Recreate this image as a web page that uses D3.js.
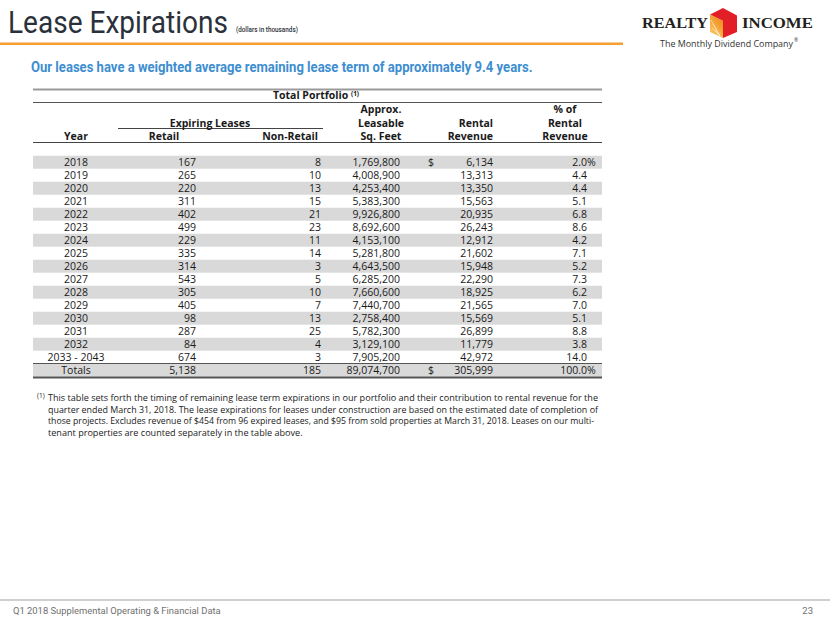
<!DOCTYPE html>
<html><head><meta charset="utf-8">
<script src="https://cdn.jsdelivr.net/npm/d3@7"></script>
<style>body{margin:0;background:#fff}svg{display:block}</style>
</head><body>
<script>
// ---------- data ----------
const years = ["2018","2019","2020","2021","2022","2023","2024","2025","2026","2027","2028","2029","2030","2031","2032","2033 - 2043"];
const retail = [167,265,220,311,402,499,229,335,314,543,305,405,98,287,84,674];
const nonRetail = [8,10,13,15,21,23,11,14,3,5,10,7,13,25,4,3];
const sqFeet = [1769800,4008900,4253400,5383300,9926800,8692600,4153100,5281800,4643500,6285200,7660600,7440700,2758400,5782300,3129100,7905200];
const rentalRevenue = [6134,13313,13350,15563,20935,26243,12912,21602,15948,22290,18925,21565,15569,26899,11779,42972];
const pctRevenue = [2.0,4.4,4.4,5.1,6.8,8.6,4.2,7.1,5.2,7.3,6.2,7.0,5.1,8.8,3.8,14.0];
const totalsLabel = "Totals";
const totals = {retail:5138, nonRetail:185, sqFeet:89074700, rental:305999, pct:100.0};
const footnoteLines = [
 "This table sets forth the timing of remaining lease term expirations in our portfolio and their contribution to rental revenue for the",
 "quarter ended March 31, 2018. The lease expirations for leases under construction are based on the estimated date of completion of",
 "those projects. Excludes revenue of $454 from 96 expired leases, and $95 from sold properties at March 31, 2018. Leases on our multi-",
 "tenant properties are counted separately in the table above."
];

// ---------- layout ----------
const W = 830, H = 623;
const svg = d3.select("body").append("svg").attr("width", W).attr("height", H);
const TF = "'Open Sans', 'Noto Sans', sans-serif";
const tableL = 33, tableR = 602;

// helper: text squeezed horizontally to a given width via transform
function fitText(parent, x, yy, width, txt, attrs) {
  const g = parent.append("g");
  const t = g.append("text").text(txt);
  Object.entries(attrs).forEach(([k, v]) => t.attr(k, v));
  const w = t.node().getComputedTextLength();
  g.attr("transform", `translate(${x},${yy}) scale(${width / w},1)`);
  return t;
}

// Title
fitText(svg, 8, 33, 220, "Lease Expirations",
  {"font-family": "Roboto, sans-serif", "font-size": 32, "fill": "#2b313b"});
fitText(svg, 236, 32, 62, "(dollars in thousands)",
  {"font-family": "Roboto, sans-serif", "font-weight": 500, "font-size": 7.5, "fill": "#2b313b"});
svg.append("rect").attr("x", 0).attr("y", 42.5).attr("width", 623).attr("height", 2.5).attr("fill", "#f5a030");

// Logo
const logo = svg.append("g");
const serif = {"font-family": "'Liberation Serif', 'DejaVu Serif', serif", "font-weight": "bold", "font-size": 15.5, "fill": "#231f20"};
fitText(logo, 642, 28, 66, "REALTY", serif);
fitText(logo, 742, 28, 71, "INCOME", serif);
const defs = svg.append("defs");
const grad = defs.append("linearGradient").attr("id", "sun").attr("x1", 0).attr("y1", 1).attr("x2", 0.6).attr("y2", 0);
grad.append("stop").attr("offset", 0).attr("stop-color", "#fbd36b");
grad.append("stop").attr("offset", 1).attr("stop-color", "#f08a1c");
logo.append("polygon").attr("points", "723,8 737,15.5 737,32 723,38 723,21 710,14.5").attr("fill", "#e21f26");
logo.append("polygon").attr("points", "710,14.5 723,21 723,38 710,32").attr("fill", "url(#sun)");
const rays = logo.append("g").attr("stroke", "#fff").attr("stroke-width", 0.6).attr("opacity", 0.8);
[[711,20],[713,24],[712,28],[715,30],[718,33]].forEach(p => {
  rays.append("line").attr("x1", 720).attr("y1", 36).attr("x2", p[0]).attr("y2", p[1]);
});
fitText(logo, 660, 47, 133, "The Monthly Dividend Company", {"font-family": TF, "font-size": 8.8, "fill": "#333"});
logo.append("text").attr("x", 794).attr("y", 42).attr("font-family", TF).attr("font-size", 5).attr("fill", "#333").text("®");

// Subtitle
fitText(svg, 31, 72, 502, "Our leases have a weighted average remaining lease term of approximately 9.4 years.",
  {"font-family": "Roboto, sans-serif", "font-weight": "bold", "font-size": 15.5, "fill": "#3d8ed0"});

// ---------- table ----------
const nRows = years.length + 1;
const y = d3.scaleBand().domain(d3.range(nRows)).range([155.7, 155.7 + 13 * nRows]).padding(0);
const rows = years.map((yr, i) => ({i, year: yr, retail: retail[i], nonRetail: nonRetail[i], sqFeet: sqFeet[i],
  rental: rentalRevenue[i], pct: pctRevenue[i], total: false}));
rows.push({i: years.length, year: totalsLabel, retail: totals.retail, nonRetail: totals.nonRetail, sqFeet: totals.sqFeet,
  rental: totals.rental, pct: totals.pct, total: true});

const fmtInt = d3.format(",");
const fmtPct = d3.format(".1f");
const cols = {year: 76, retail: 196, nonRetail: 321, sqFeet: 400, dollar: 428, rental: 493, pct: 587};

const tbl = svg.append("g").attr("font-family", TF).attr("font-size", 10.5).attr("fill", "#1a1a1a");

// stripes
tbl.selectAll("rect.stripe").data(rows.filter(r => r.i % 2 === 0)).join("rect")
  .attr("class", "stripe").attr("x", tableL).attr("width", tableR - tableL)
  .attr("y", d => y(d.i)).attr("height", y.bandwidth()).attr("fill", "#d9d9d9");

// lines
const hline = (yy, x1, x2, color, w) => svg.append("line").attr("x1", x1).attr("x2", x2).attr("y1", yy).attr("y2", yy)
  .attr("stroke", color).attr("stroke-width", w);
hline(89.5, tableL, tableR, "#9a9a9a", 2);
hline(102.5, tableL, tableR, "#555", 1);
hline(128.5, 118, 323, "#444", 1);
hline(142.5, tableL, tableR, "#444", 1);
hline(y(years.length) - 0.2, tableL, tableR, "#555", 1);
hline(y(years.length) + y.bandwidth() + 0.8, tableL, tableR, "#555", 2.2);

// header
const hdr = svg.append("g").attr("font-family", TF).attr("font-size", 10.5).attr("font-weight", "bold").attr("fill", "#1a1a1a");
const tp = hdr.append("text").attr("x", 316).attr("y", 98.5).attr("text-anchor", "middle");
tp.append("tspan").text("Total Portfolio ");
tp.append("tspan").attr("font-size", 6.5).attr("dy", -3).text("(1)");
const headers = [
  {t: "Approx.", x: 381, y: 113, a: "middle"},
  {t: "% of", x: 565, y: 113, a: "middle"},
  {t: "Expiring Leases", x: 210, y: 126.5, a: "middle"},
  {t: "Leasable", x: 381, y: 126.5, a: "middle"},
  {t: "Rental", x: 493, y: 126.5, a: "end"},
  {t: "Rental", x: 565, y: 126.5, a: "middle"},
  {t: "Year", x: 76, y: 140, a: "middle"},
  {t: "Retail", x: 164, y: 140, a: "middle"},
  {t: "Non-Retail", x: 318, y: 140, a: "end"},
  {t: "Sq. Feet", x: 381, y: 140, a: "middle"},
  {t: "Revenue", x: 493, y: 140, a: "end"},
  {t: "Revenue", x: 565, y: 140, a: "middle"}
];
hdr.selectAll("text.h").data(headers).join("text").attr("class", "h")
  .attr("x", d => d.x).attr("y", d => d.y).attr("text-anchor", d => d.a).text(d => d.t);

// cells
const rowG = tbl.selectAll("g.row").data(rows).join("g").attr("class", "row")
  .attr("transform", d => `translate(0,${y(d.i) + 10.2})`);
rowG.append("text").attr("x", cols.year).attr("text-anchor", "middle").text(d => d.year);
rowG.append("text").attr("x", cols.retail).attr("text-anchor", "end").text(d => fmtInt(d.retail));
rowG.append("text").attr("x", cols.nonRetail).attr("text-anchor", "end").text(d => fmtInt(d.nonRetail));
rowG.append("text").attr("x", cols.sqFeet).attr("text-anchor", "end").text(d => fmtInt(d.sqFeet));
rowG.filter(d => d.i === 0 || d.total).append("text").attr("x", cols.dollar).text("$");
rowG.append("text").attr("x", cols.rental).attr("text-anchor", "end").text(d => fmtInt(d.rental));
rowG.append("text").attr("x", cols.pct).attr("text-anchor", "end").text(d => fmtPct(d.pct));
rowG.filter(d => d.i === 0 || d.total).append("text").attr("x", cols.pct).text("%");

// footnote
const fn = svg.append("g").attr("font-family", TF).attr("font-size", 9.6).attr("fill", "#1a1a1a");
fn.append("text").attr("x", 37).attr("y", 398).attr("font-size", 6.5).text("(1)");
const fnLines = fn.selectAll("text.fl").data(footnoteLines).join("text").attr("class", "fl")
  .attr("x", 48).attr("y", (d, i) => 401 + i * 11.6).text(d => d);
let ratio = 1;
fnLines.each(function(d, i) {
  const w = this.getComputedTextLength();
  if (i === 0) ratio = 550 / w;
  const target = i < 3 ? (i === 2 ? 546 : 550) : w * ratio;
  d3.select(this).attr("textLength", target).attr("lengthAdjust", "spacingAndGlyphs");
});

// footer
hline(600, 0, W, "#d0d0d0", 2);
fitText(svg, 13, 614, 208, "Q1 2018 Supplemental Operating & Financial Data",
  {"font-family": "Roboto, sans-serif", "font-size": 9.5, "fill": "#6f6f6f"});
svg.append("text").attr("x", 813).attr("y", 614).attr("text-anchor", "end").attr("font-family", "Roboto, sans-serif")
  .attr("font-size", 9.5).attr("fill", "#6f6f6f").text("23");
</script>
</body></html>
